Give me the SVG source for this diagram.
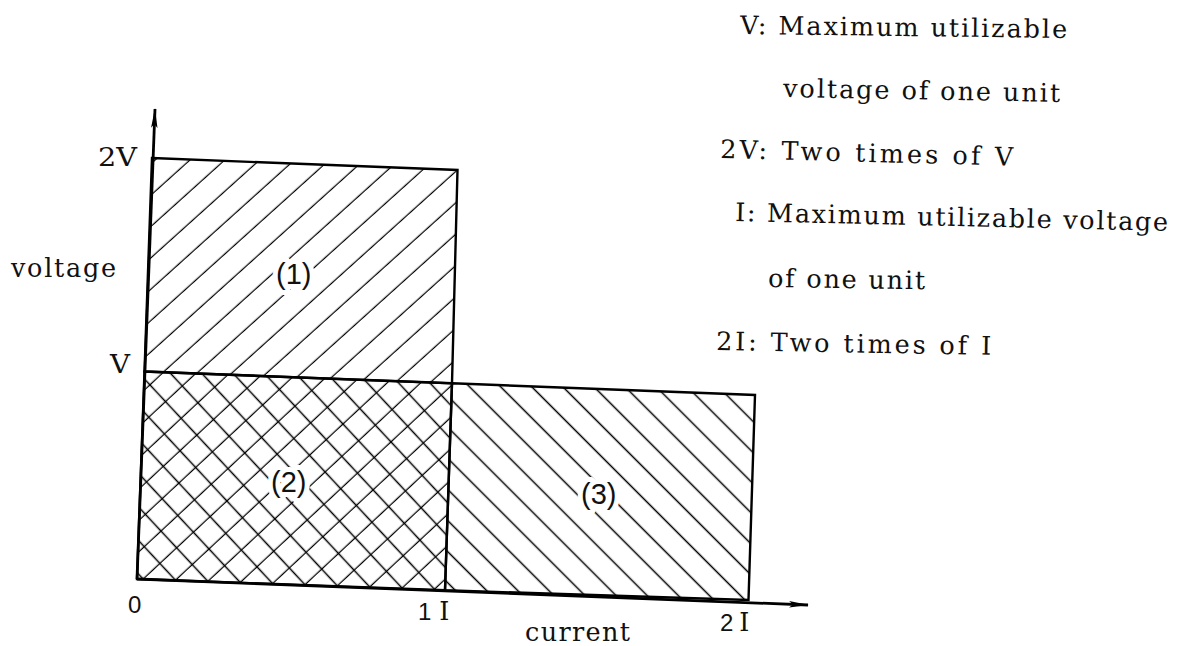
<svg xmlns="http://www.w3.org/2000/svg" width="1186" height="646" viewBox="0 0 1186 646">
  <style>
    .serif { font-family: "DejaVu Serif", "Liberation Serif", serif; font-size: 25.5px; fill: #111; }
    .sans { font-family: "Liberation Sans", Arial, sans-serif; font-size: 29px; fill: #111; }
    .num { font-family: "Liberation Sans", Arial, sans-serif; font-size: 24px; fill: #111; }
    .lbl { paint-order: stroke; stroke: #fff; stroke-width: 10px; stroke-linejoin: round; }
    .edge { fill: none; stroke: #000; stroke-width: 2.4; stroke-linejoin: miter; }
    .axis { fill: none; stroke: #000; stroke-width: 2.8; }
  </style>
  <defs>
    <pattern id="hatchA" patternUnits="userSpaceOnUse" width="40" height="23.3" patternTransform="rotate(-42)">
      <line x1="-1" y1="13" x2="41" y2="13" stroke="#000" stroke-width="1.4"/>
    </pattern>
    <pattern id="hatchC" patternUnits="userSpaceOnUse" width="40" height="22" patternTransform="rotate(45)">
      <line x1="-1" y1="7.5" x2="41" y2="7.5" stroke="#000" stroke-width="1.4"/>
    </pattern>
    <pattern id="crossB1" patternUnits="userSpaceOnUse" width="40" height="22.9" patternTransform="rotate(47)">
      <line x1="-1" y1="15.4" x2="41" y2="15.4" stroke="#000" stroke-width="1.4"/>
    </pattern>
    <pattern id="crossB2" patternUnits="userSpaceOnUse" width="40" height="22.9" patternTransform="rotate(-43)">
      <line x1="-1" y1="17.3" x2="41" y2="17.3" stroke="#000" stroke-width="1.4"/>
    </pattern>
    <marker id="arrow" viewBox="0 0 20 8" refX="19" refY="4" markerWidth="20" markerHeight="8" markerUnits="userSpaceOnUse" orient="auto">
      <path d="M0,0.8 L20,4 L0,7.2 L4,4 Z" fill="#000"/>
    </marker>
  </defs>

  <rect width="1186" height="646" fill="#fff"/>

  <g id="region1">
    <polygon points="152,158 457.5,170 452,383.3 144.5,371.5" fill="url(#hatchA)"/>
    <polygon class="edge" points="152,158 457.5,170 452,383.3 144.5,371.5"/>
    <text class="sans lbl" x="276" y="284">(1)</text>
  </g>

  <g id="region2">
    <polygon points="144.5,371.5 452,383.3 445,590.3 137,579" fill="url(#crossB1)"/>
    <polygon points="144.5,371.5 452,383.3 445,590.3 137,579" fill="url(#crossB2)"/>
    <polygon class="edge" points="144.5,371.5 452,383.3 445,590.3 137,579"/>
    <text class="sans lbl" x="271" y="492">(2)</text>
  </g>

  <g id="region3">
    <polygon points="452,383.3 755,395 748.5,600 445,590.3" fill="url(#hatchC)"/>
    <polygon class="edge" points="452,383.3 755,395 748.5,600 445,590.3"/>
    <text class="sans lbl" x="581" y="504">(3)</text>
  </g>

  <g id="axes">
    <line class="axis" x1="137" y1="579" x2="155" y2="109" marker-end="url(#arrow)"/>
    <line class="axis" x1="137" y1="579" x2="808" y2="605" marker-end="url(#arrow)"/>
  </g>

  <g id="axis-labels">
    <text class="serif" x="98" y="166" textLength="39" lengthAdjust="spacingAndGlyphs">2V</text>
    <text class="serif" x="11" y="277" textLength="105" lengthAdjust="spacing">voltage</text>
    <text class="serif" x="110" y="373" textLength="20" lengthAdjust="spacingAndGlyphs">V</text>
    <text class="num" x="128" y="613">0</text>
    <text x="418" y="620"><tspan class="num">1</tspan><tspan class="serif" dx="8">I</tspan></text>
    <text class="serif" x="525" y="641" textLength="105" lengthAdjust="spacing">current</text>
    <text x="720" y="631"><tspan class="num">2</tspan><tspan class="serif" dx="6">I</tspan></text>
  </g>

  <g id="legend">
    <text class="serif" x="740" y="34" textLength="327" lengthAdjust="spacing" transform="rotate(0.7 740 34)">V: Maximum utilizable</text>
    <text class="serif" x="783" y="97" textLength="277" lengthAdjust="spacing" transform="rotate(1 783 97)">voltage of one unit</text>
    <text class="serif" x="720" y="158" textLength="293" lengthAdjust="spacing" transform="rotate(1.5 720 158)">2V: Two times of V</text>
    <text class="serif" x="735" y="221" textLength="433" lengthAdjust="spacing" transform="rotate(1.3 735 221)">I: Maximum utilizable voltage</text>
    <text class="serif" x="768" y="287" textLength="157" lengthAdjust="spacing" transform="rotate(0.8 768 287)">of one unit</text>
    <text class="serif" x="716" y="350" textLength="275" lengthAdjust="spacing" transform="rotate(1 716 350)">2I:  Two times of I</text>
  </g>
</svg>
